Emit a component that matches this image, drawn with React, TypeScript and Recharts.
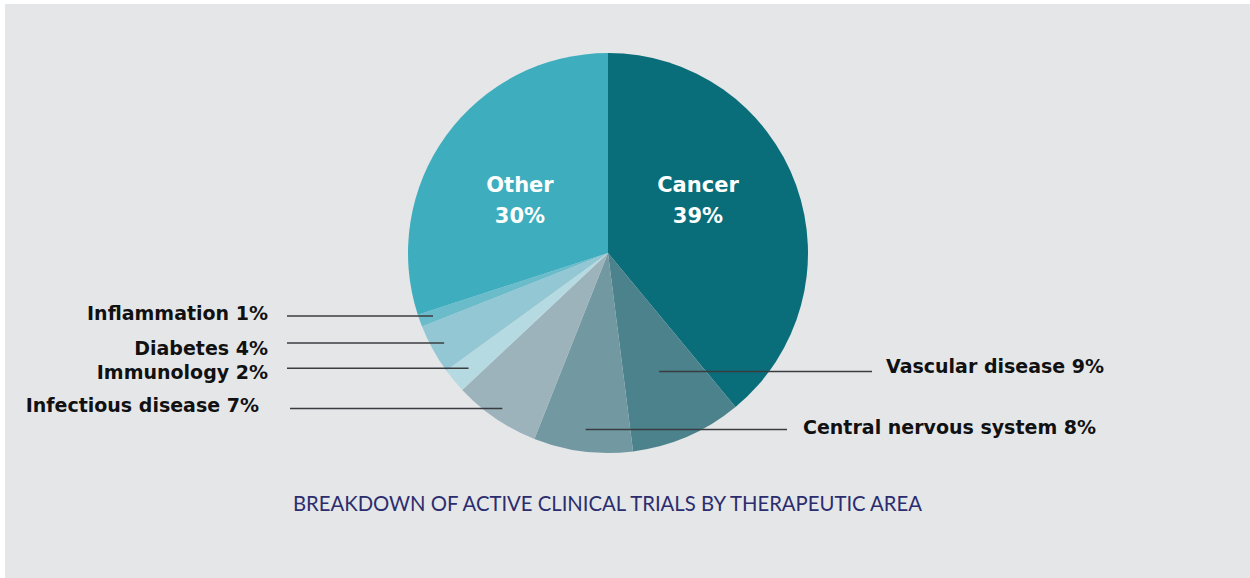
import React from "react";
import { PieChart, Pie, Cell } from "recharts";

const categories = [
  "Cancer",
  "Vascular disease",
  "Central nervous system",
  "Infectious disease",
  "Immunology",
  "Diabetes",
  "Inflammation",
  "Other",
];
const shares = [39, 9, 8, 7, 2, 4, 1, 30];
const sliceColors = ["#0a6e7a", "#4b828c", "#7298a2", "#9db3bb", "#b6dae1", "#92c7d3", "#6abccb", "#3eadbe"];

const title = "BREAKDOWN OF ACTIVE CLINICAL TRIALS BY THERAPEUTIC AREA";

// label placement, relative to the pie centre
type LabelLayout =
  | { kind: "inside"; dx: number; dy1: number; dy2: number }
  | { kind: "outside"; r: number; lineX: number; textX: number; anchor: "start" | "end"; dy: number };

const labelLayout: LabelLayout[] = [
  { kind: "inside", dx: 90, dy1: -68, dy2: -37 },
  { kind: "outside", r: 129, lineX: 264, textX: 278, anchor: "start", dy: -5 },
  { kind: "outside", r: 178, lineX: 179, textX: 195, anchor: "start", dy: -3 },
  { kind: "outside", r: 188, lineX: -318, textX: -349, anchor: "end", dy: -3 },
  { kind: "outside", r: 181, lineX: -321, textX: -340, anchor: "end", dy: 4 },
  { kind: "outside", r: 187, lineX: -321, textX: -340, anchor: "end", dy: 5 },
  { kind: "outside", r: 186, lineX: -321, textX: -340, anchor: "end", dy: -3 },
  { kind: "inside", dx: -88, dy1: -68, dy2: -37 },
];

const data = categories.map((name, i) => ({ name, value: shares[i] }));

const BOLD_FONT = "'DejaVu Sans', sans-serif";
const TITLE_FONT = "Lato, 'Open Sans', sans-serif";
const RAD = Math.PI / 180;

function renderLabel(props: any) {
  const { cx, cy, midAngle, index } = props;
  const cfg = labelLayout[index];
  const name = categories[index];
  const pct = `${shares[index]}%`;
  if (cfg.kind === "inside") {
    return (
      <g key={`lbl-${index}`}>
        <text x={cx + cfg.dx} y={cy + cfg.dy1} fill="#ffffff" textAnchor="middle" dominantBaseline="central"
          style={{ fontFamily: BOLD_FONT, fontWeight: 700, fontSize: 21 }}>{name}</text>
        <text x={cx + cfg.dx} y={cy + cfg.dy2} fill="#ffffff" textAnchor="middle" dominantBaseline="central"
          style={{ fontFamily: BOLD_FONT, fontWeight: 700, fontSize: 21 }}>{pct}</text>
      </g>
    );
  }
  const sx = cx + cfg.r * Math.cos(-midAngle * RAD);
  const sy = cy + cfg.r * Math.sin(-midAngle * RAD);
  return (
    <g key={`lbl-${index}`}>
      <line x1={sx} y1={sy} x2={cx + cfg.lineX} y2={sy} stroke="#3a3d40" strokeWidth={1.5} />
      <text x={cx + cfg.textX} y={sy + cfg.dy} fill="#111111" textAnchor={cfg.anchor} dominantBaseline="central"
        style={{ fontFamily: BOLD_FONT, fontWeight: 700, fontSize: 19 }}>{`${name} ${pct}`}</text>
    </g>
  );
}

export default function App() {
  return (
    <div style={{ position: "absolute", left: 0, top: 0, width: 1250, height: 578, background: "#ffffff" }}>
      <div style={{ position: "absolute", left: 5, top: 4, width: 1245, height: 574, background: "#e5e6e8" }}>
        <PieChart width={1245} height={574} margin={{ top: 0, right: 0, bottom: 0, left: 0 }}>
          <Pie
            data={data}
            dataKey="value"
            nameKey="name"
            cx={603}
            cy={249}
            outerRadius={200}
            startAngle={90}
            endAngle={-270}
            stroke="none"
            label={renderLabel}
            labelLine={false}
            isAnimationActive={false}
          >
            {data.map((d, i) => (
              <Cell key={d.name} fill={sliceColors[i]} />
            ))}
          </Pie>
        </PieChart>
        <div style={{ position: "absolute", left: 0, width: 1205, top: 487, textAlign: "center", fontFamily: TITLE_FONT,
          fontSize: 20.3, color: "#2b2d6e", letterSpacing: 0 }}>
          {title}
        </div>
      </div>
    </div>
  );
}
